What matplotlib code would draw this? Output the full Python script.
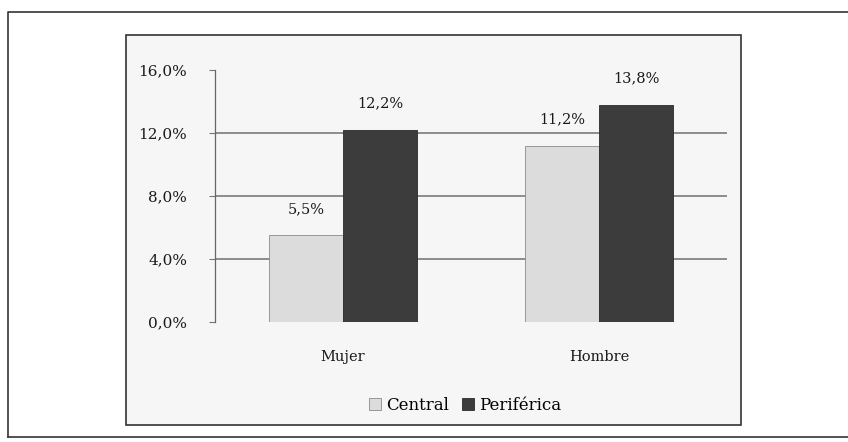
import numpy as np
import matplotlib
matplotlib.use('Agg')
from matplotlib import pyplot as plt
from matplotlib.patches import Rectangle
from matplotlib.lines import Line2D

categorias = ['Mujer', 'Hombre']
central = [5.5, 11.2]
periferica = [12.2, 13.8]
yticks = [0, 4, 8, 12, 16]

plt.rcParams['font.family'] = 'DejaVu Serif'

W, H = 848, 442
fig = plt.figure(figsize=(W / 100, H / 100), dpi=100)
fig.patch.set_facecolor('white')

# marco exterior (escaneado, sin lado derecho)
fig.add_artist(Line2D([8 / W, 8 / W, 1], [1 - 437 / H, 1 - 12 / H, 1 - 12 / H],
                      color='#333333', lw=1.2, zorder=-2))
fig.add_artist(Line2D([8 / W, 1], [1 - 437 / H, 1 - 437 / H], color='#333333',
                      lw=1.2, zorder=-2))

# recuadro del grafico
fig.add_artist(Rectangle((126 / W, 1 - 425 / H), 615 / W, 390 / H,
                         facecolor='#f6f6f6', edgecolor='#333333', lw=1.2, zorder=-1))

ax = fig.add_axes([215 / W, 120 / H, 512 / W, 252 / H])
ax.set_facecolor('none')
ax.set_zorder(2)

x = np.arange(len(categorias))
w = 0.29
b1 = ax.bar(x - w / 2, central, w, color='#dcdcdc', edgecolor='#8a8a8a', lw=0.6,
            label='Central', zorder=3)
b2 = ax.bar(x + w / 2, periferica, w, color='#3c3c3c', edgecolor='#2a2a2a', lw=0.6,
            label='Periférica', zorder=3)

for bars, vals in ((b1, central), (b2, periferica)):
    for r, v in zip(bars, vals):
        ax.annotate(f'{v:.1f}%'.replace('.', ','),
                    (r.get_x() + r.get_width() / 2, v),
                    xytext=(0, 14), textcoords='offset points',
                    ha='center', va='bottom', fontsize=10.5, color='#1a1a1a')

for g in yticks[1:-1]:
    ax.axhline(g, color='#707070', lw=1.1, zorder=1)

ax.set_xlim(-0.5, 1.5)
ax.set_ylim(0, 16)
ax.set_yticks(yticks)
ax.set_yticklabels([f'{t:.1f}%'.replace('.', ',') for t in yticks])
ax.set_xticks(x)
ax.set_xticklabels(categorias)
ax.tick_params(axis='y', length=4, width=0.8, color='#777777', pad=16,
               labelsize=11, labelcolor='#1a1a1a')
ax.tick_params(axis='x', length=0, pad=20, labelsize=10.5, labelcolor='#1a1a1a')

for s in ('top', 'right', 'bottom'):
    ax.spines[s].set_visible(False)
ax.spines['left'].set_color('#666666')
ax.spines['left'].set_linewidth(0.9)

fig.legend(handles=[b1, b2], loc='center', bbox_to_anchor=(465 / W, 1 - 405 / H),
           ncol=2, frameon=False, fontsize=12, handlelength=0.7, handleheight=0.7,
           handletextpad=0.3, columnspacing=0.8)

fig.savefig('out.png', dpi=100)
